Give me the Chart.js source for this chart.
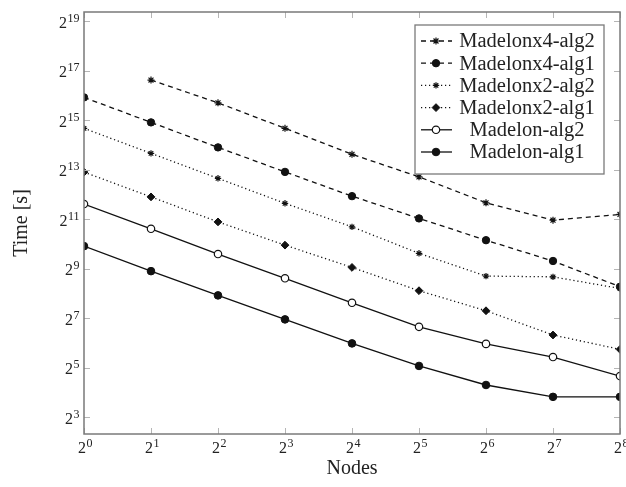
<!DOCTYPE html>
<html>
<head>
<meta charset="utf-8">
<script src="https://cdn.jsdelivr.net/npm/chart.js@4/dist/chart.umd.min.js"></script>
<style>
  html, body { margin: 0; padding: 0; background: #fff; }
  #wrap { width: 626px; height: 487px; }
</style>
</head>
<body>
<div id="wrap"><canvas id="c"></canvas></div>
<script>
// nodes as powers of two (2^0 .. 2^8)
var nodeExp = [0, 1, 2, 3, 4, 5, 6, 7, 8];
// time in seconds as log2 values
var madelonx4Alg2 = [null, 16.63, 15.71, 14.68, 13.63, 12.72, 11.67, 10.97, 11.2];
var madelonx4Alg1 = [15.93, 14.92, 13.91, 12.92, 11.94, 11.04, 10.16, 9.32, 8.28];
var madelonx2Alg2 = [14.68, 13.67, 12.66, 11.65, 10.7, 9.63, 8.71, 8.68, 8.21];
var madelonx2Alg1 = [12.91, 11.91, 10.9, 9.96, 9.06, 8.12, 7.31, 6.33, 5.75];
var madelonAlg2 = [11.62, 10.62, 9.6, 8.62, 7.63, 6.66, 5.97, 5.44, 4.67];
var madelonAlg1 = [9.92, 8.91, 7.93, 6.96, 5.99, 5.08, 4.31, 3.83, 3.83];
var yTicks = [3, 5, 7, 9, 11, 13, 15, 17, 19];

var SERIF = '"Liberation Serif", "DejaVu Serif", serif';
var INK = '#111';
var DASH = [5, 4], DOT = [1.2, 2.8];

function pts(vals) {
  return nodeExp.map(function (x, i) { return { x: x, y: vals[i] }; })
    .filter(function (p) { return p.y !== null; });
}
function series(label, vals, dash, style, radius, filled) {
  return {
    label: label, data: pts(vals),
    borderColor: INK, borderWidth: 1.3, borderDash: dash,
    pointStyle: style, pointRadius: radius, pointHoverRadius: radius,
    pointBackgroundColor: filled ? INK : '#fff', pointBorderColor: INK,
    pointBorderWidth: filled ? 1 : 1.2, tension: 0, fill: false
  };
}

// "2" with a raised exponent; align 'center' or 'right'
function powLabel(ctx, e, x, y, align) {
  ctx.font = '16px ' + SERIF;
  var wb = ctx.measureText('2').width;
  ctx.font = '12px ' + SERIF;
  var we = ctx.measureText(String(e)).width;
  var x0 = align === 'right' ? x - wb - we : x - (wb + we) / 2;
  ctx.textAlign = 'left'; ctx.textBaseline = 'alphabetic';
  ctx.font = '16px ' + SERIF;
  ctx.fillText('2', x0, y);
  ctx.font = '12px ' + SERIF;
  ctx.fillText(String(e), x0 + wb + 0.5, y - 6);
}

var frame = {
  id: 'frame',
  afterDatasetsDraw: function (chart) {
    var ctx = chart.ctx, a = chart.chartArea;
    var xs = chart.scales.x, ys = chart.scales.y;
    ctx.save();
    ctx.strokeStyle = '#b5b5b5'; ctx.lineWidth = 1;
    ctx.beginPath();
    xs.ticks.forEach(function (t) {
      var px = Math.round(xs.getPixelForValue(t.value)) + 0.5;
      ctx.moveTo(px, a.bottom); ctx.lineTo(px, a.bottom - 6);
      ctx.moveTo(px, a.top); ctx.lineTo(px, a.top + 6);
    });
    ys.ticks.forEach(function (t) {
      var py = Math.round(ys.getPixelForValue(t.value)) + 0.5;
      ctx.moveTo(a.left, py); ctx.lineTo(a.left + 6, py);
      ctx.moveTo(a.right, py); ctx.lineTo(a.right - 6, py);
    });
    ctx.stroke();
    ctx.strokeStyle = '#7a7a7a'; ctx.lineWidth = 1.5;
    ctx.strokeRect(a.left, a.top, a.right - a.left, a.bottom - a.top);

    // tick labels
    ctx.fillStyle = '#222';
    xs.ticks.forEach(function (t) {
      powLabel(ctx, t.value, xs.getPixelForValue(t.value) + 1, a.bottom + 19, 'center');
    });
    ys.ticks.forEach(function (t) {
      powLabel(ctx, t.value, a.left - 5, ys.getPixelForValue(t.value) + 6.5, 'right');
    });
    ctx.restore();
  },
  afterDraw: function (chart) {
    // framed legend, text centred, as in the original figure
    var ctx = chart.ctx;
    var bx = 415, by = 25, bw = 189, bh = 149, rowH = 22.2, first = 41;
    ctx.save();
    ctx.fillStyle = '#fff';
    ctx.fillRect(bx, by, bw, bh);
    ctx.strokeStyle = '#7a7a7a'; ctx.lineWidth = 1.3;
    ctx.strokeRect(bx, by, bw, bh);
    ctx.font = '20.5px ' + SERIF;
    ctx.textAlign = 'center'; ctx.textBaseline = 'middle';
    chart.data.datasets.forEach(function (ds, i) {
      var y = first + i * rowH;
      ctx.strokeStyle = INK; ctx.lineWidth = 1.3;
      ctx.setLineDash(ds.borderDash || []);
      ctx.beginPath(); ctx.moveTo(421, y); ctx.lineTo(452, y); ctx.stroke();
      ctx.setLineDash([]);
      ctx.fillStyle = ds.pointBackgroundColor; ctx.strokeStyle = INK;
      ctx.lineWidth = ds.pointBorderWidth;
      Chart.helpers.drawPoint(ctx, { pointStyle: ds.pointStyle, radius: ds.pointRadius, rotation: 0, borderWidth: ds.pointBorderWidth }, 436, y);
      ctx.fillStyle = '#222';
      ctx.fillText(ds.label, 527, y + 1);
    });
    ctx.restore();
  }
};

new Chart(document.getElementById('c'), {
  type: 'line',
  data: {
    datasets: [
      series('Madelonx4-alg2', madelonx4Alg2, DASH, 'star', 3.5, false),
      series('Madelonx4-alg1', madelonx4Alg1, DASH, 'circle', 3.7, true),
      series('Madelonx2-alg2', madelonx2Alg2, DOT, 'star', 3.2, false),
      series('Madelonx2-alg1', madelonx2Alg1, DOT, 'rectRot', 3.9, true),
      series('Madelon-alg2', madelonAlg2, [], 'circle', 3.7, false),
      series('Madelon-alg1', madelonAlg1, [], 'circle', 3.8, true)
    ]
  },
  plugins: [frame],
  options: {
    responsive: true, maintainAspectRatio: false, animation: false,
    layout: { padding: { top: 12, right: 6, left: 0, bottom: 0 } },
    plugins: { legend: { display: false }, tooltip: { enabled: false } },
    scales: {
      x: {
        type: 'linear', min: 0, max: 8,
        afterFit: function (s) { s.height = 53; },
        afterBuildTicks: function (s) { s.ticks = nodeExp.map(function (v) { return { value: v }; }); },
        grid: { display: false }, border: { display: false },
        ticks: { display: false },
        title: { display: true, text: 'Nodes', color: '#222', padding: { top: 0, bottom: 6 },
          font: { family: SERIF, size: 20 } }
      },
      y: {
        type: 'linear', min: 2.33, max: 19.38,
        afterFit: function (s) { s.width = 84; },
        afterBuildTicks: function (s) { s.ticks = yTicks.map(function (v) { return { value: v }; }); },
        grid: { display: false }, border: { display: false },
        ticks: { display: false },
        title: { display: true, text: 'Time [s]', color: '#222', padding: { top: 10, bottom: 0 },
          font: { family: SERIF, size: 20 } }
      }
    }
  }
});
</script>
</body>
</html>
